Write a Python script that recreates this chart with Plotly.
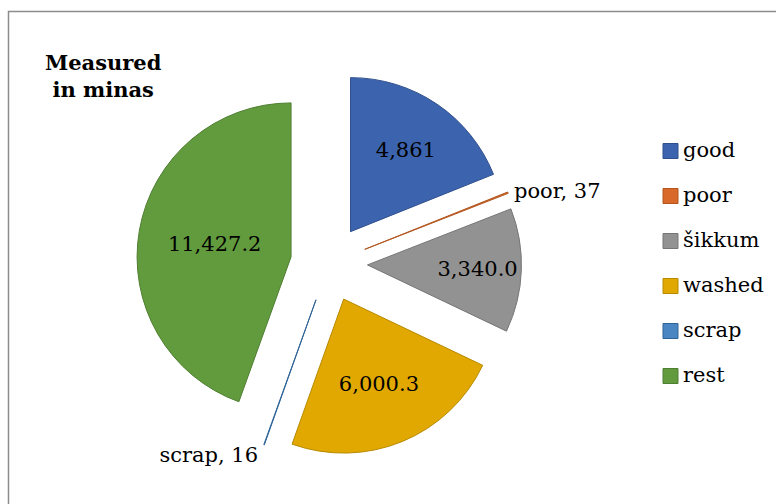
import plotly.graph_objects as go

# Quantities measured in minas
labels = ["good", "poor", "šikkum", "washed", "scrap", "rest"]
values = [4861, 37, 3340.0, 6000.3, 16, 11427.2]

fill_colors = ["#3C64AE", "#D9692B", "#929292", "#E0A800", "#4A87C2", "#629B3E"]
edge_colors = ["#2F4F8C", "#B2561F", "#767676", "#B88A00", "#2F6497", "#4E7E31"]

label_templates = ["%{value:,}", "%{label}, %{value}", "%{value:,.1f}",
                   "%{value:,.1f}", "%{label}, %{value}", "%{value:,.1f}"]
label_positions = ["inside", "outside", "inside", "inside", "outside", "inside"]

W, H = 776, 504
serif = "DejaVu Serif"
text_size = 21

fig = go.Figure(
    go.Pie(
        labels=labels,
        values=values,
        sort=False,
        direction="clockwise",
        rotation=0,
        pull=[0.25] * len(values),
        marker=dict(colors=fill_colors, line=dict(color=edge_colors, width=1)),
        texttemplate=label_templates,
        textposition=label_positions,
        insidetextorientation="horizontal",
        insidetextfont=dict(family=serif, size=text_size, color="black"),
        outsidetextfont=dict(family=serif, size=text_size, color="black"),
        domain=dict(x=[0.1759, 0.6720], y=[0.0952, 0.8591]),
        hoverinfo="label+value",
        showlegend=False,
    )
)

# Legend: coloured squares with the category names beside them
legend_shapes = []
legend_notes = []
top_y, step = 151, 45
for i, (name, fc, ec) in enumerate(zip(labels, fill_colors, edge_colors)):
    yc = top_y + i * step
    legend_shapes.append(dict(
        type="rect", xref="paper", yref="paper",
        x0=663 / W, x1=678 / W, y0=1 - (yc + 7.5) / H, y1=1 - (yc - 7.5) / H,
        fillcolor=fc, line=dict(color=ec, width=1),
    ))
    legend_notes.append(dict(
        text=name, x=681 / W, y=1 - (yc - 1) / H, xref="paper", yref="paper",
        xanchor="left", yanchor="middle", showarrow=False,
        font=dict(family=serif, size=text_size, color="black"),
    ))

fig.update_layout(
    width=W,
    height=H,
    margin=dict(l=0, r=0, t=0, b=0, pad=0, autoexpand=False),
    paper_bgcolor="white",
    plot_bgcolor="white",
    font=dict(family=serif, size=text_size, color="black"),
    showlegend=False,
    annotations=[
        dict(
            text="<b>Measured</b><br><b>in minas</b>",
            x=103 / W, y=1 - 76 / H, xref="paper", yref="paper",
            xanchor="center", yanchor="middle", showarrow=False,
            font=dict(family=serif, size=21, color="black"),
        )
    ] + legend_notes,
    shapes=[
        dict(
            type="rect", xref="paper", yref="paper",
            x0=8.5 / W, x1=1.05, y0=-0.05, y1=1 - 11.5 / H,
            line=dict(color="#8C8C8C", width=1.5), fillcolor="rgba(0,0,0,0)",
        )
    ] + legend_shapes,
)

fig.write_html("out.html")
